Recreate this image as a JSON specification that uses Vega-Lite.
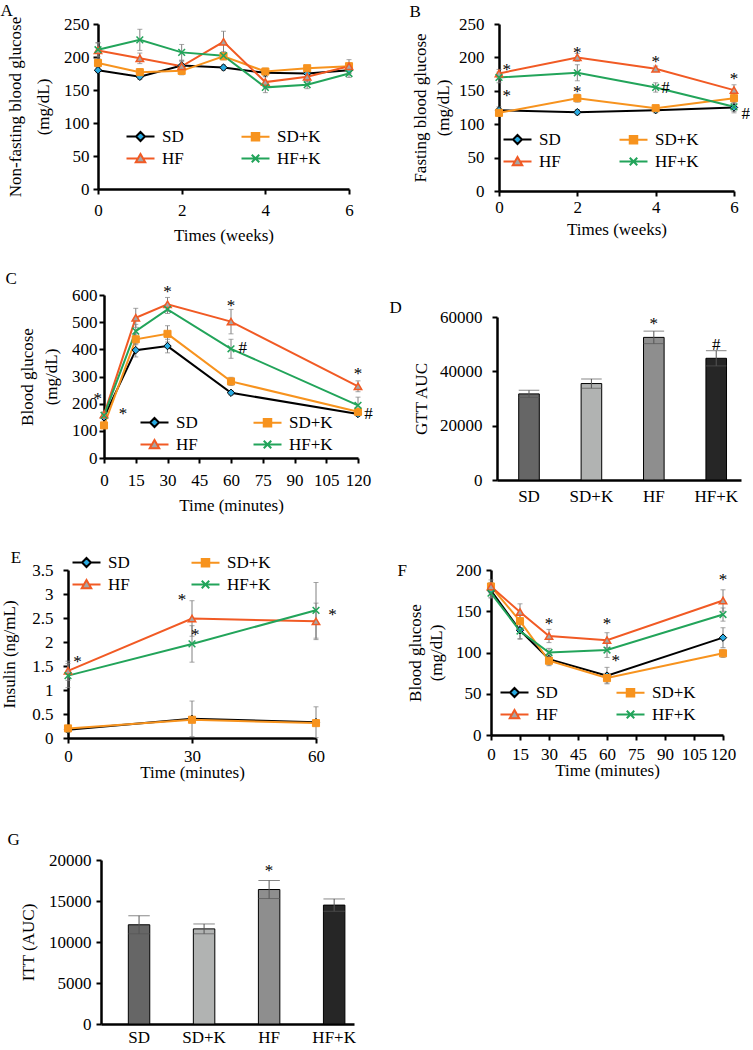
{
  "$schema": "https://vega.github.io/schema/vega-lite/v6.json",
  "padding": {"top": 2, "left": 0, "right": 0, "bottom": 0},
  "background": "white",
  "config": {
    "view": {"stroke": null},
    "font": "Liberation Serif",
    "axis": {"domainColor": "#000", "domainWidth": 2.5, "tickColor": "#000", "tickWidth": 2, "tickSize": 5, "labelFont": "Liberation Serif", "labelFontSize": 17, "labelColor": "#000", "titleFont": "Liberation Serif", "titleFontSize": 17, "titleFontWeight": "normal", "titleColor": "#000", "grid": false, "labelPadding": 3, "labelFlush": false, "labelOverlap": false, "titleLineHeight": 24},
    "axisX": {"titleBaseline": "middle"},
    "axisY": {"titlePadding": 6},
    "legend": {"labelFont": "Liberation Serif", "labelFontSize": 17, "labelColor": "#000", "symbolStrokeWidth": 2, "padding": 0, "symbolOpacity": 1, "direction": "horizontal", "rowPadding": 4},
    "title": {"anchor": "start", "frame": "bounds", "fontSize": 17, "fontWeight": "normal", "font": "Liberation Serif", "color": "#000", "offset": 4}
  },
  "datasets": {
    "A": [
      {"g": "SD", "t": 0, "v": 180, "e": 4}, {"g": "SD", "t": 1, "v": 170, "e": 4}, {"g": "SD", "t": 2, "v": 187, "e": 8}, {"g": "SD", "t": 3, "v": 184, "e": 4}, {"g": "SD", "t": 4, "v": 176, "e": 5}, {"g": "SD", "t": 5, "v": 175, "e": 4}, {"g": "SD", "t": 6, "v": 180, "e": 5},
      {"g": "SD+K", "t": 0, "v": 191, "e": 5}, {"g": "SD+K", "t": 1, "v": 177, "e": 5}, {"g": "SD+K", "t": 2, "v": 179, "e": 6}, {"g": "SD+K", "t": 3, "v": 201, "e": 5}, {"g": "SD+K", "t": 4, "v": 178, "e": 5}, {"g": "SD+K", "t": 5, "v": 183, "e": 4}, {"g": "SD+K", "t": 6, "v": 186, "e": 5},
      {"g": "HF", "t": 0, "v": 210, "e": 12}, {"g": "HF", "t": 1, "v": 198, "e": 8}, {"g": "HF", "t": 2, "v": 186, "e": 7}, {"g": "HF", "t": 3, "v": 223, "e": 16}, {"g": "HF", "t": 4, "v": 162, "e": 8}, {"g": "HF", "t": 5, "v": 170, "e": 7}, {"g": "HF", "t": 6, "v": 186, "e": 10},
      {"g": "HF+K", "t": 0, "v": 211, "e": 10}, {"g": "HF+K", "t": 1, "v": 226, "e": 16}, {"g": "HF+K", "t": 2, "v": 207, "e": 12}, {"g": "HF+K", "t": 3, "v": 202, "e": 6}, {"g": "HF+K", "t": 4, "v": 154, "e": 8}, {"g": "HF+K", "t": 5, "v": 158, "e": 6}, {"g": "HF+K", "t": 6, "v": 175, "e": 6}
    ],
    "B": [
      {"g": "SD", "t": 0, "v": 121, "e": 5}, {"g": "SD", "t": 2, "v": 118, "e": 4}, {"g": "SD", "t": 4, "v": 121, "e": 4}, {"g": "SD", "t": 6, "v": 125, "e": 8},
      {"g": "SD+K", "t": 0, "v": 117, "e": 5}, {"g": "SD+K", "t": 2, "v": 139, "e": 6}, {"g": "SD+K", "t": 4, "v": 124, "e": 4}, {"g": "SD+K", "t": 6, "v": 139, "e": 8},
      {"g": "HF", "t": 0, "v": 176, "e": 6}, {"g": "HF", "t": 2, "v": 200, "e": 6}, {"g": "HF", "t": 4, "v": 183, "e": 4}, {"g": "HF", "t": 6, "v": 151, "e": 8},
      {"g": "HF+K", "t": 0, "v": 170, "e": 8}, {"g": "HF+K", "t": 2, "v": 177, "e": 12}, {"g": "HF+K", "t": 4, "v": 155, "e": 7}, {"g": "HF+K", "t": 6, "v": 126, "e": 7}
    ],
    "Bnote": [
      {"t": 0.2, "v": 187, "label": "*"}, {"t": 0.2, "v": 148, "label": "*"}, {"t": 2, "v": 213, "label": "*"}, {"t": 2, "v": 154, "label": "*"}, {"t": 4, "v": 199, "label": "*"}, {"t": 4.25, "v": 160, "label": "#"}, {"t": 6, "v": 174, "label": "*"}, {"t": 6.3, "v": 121, "label": "#"}
    ],
    "C": [
      {"g": "SD", "t": 0, "v": 150, "e": 10}, {"g": "SD", "t": 15, "v": 397, "e": 25}, {"g": "SD", "t": 30, "v": 412, "e": 25}, {"g": "SD", "t": 60, "v": 240, "e": 8}, {"g": "SD", "t": 120, "v": 162, "e": 8},
      {"g": "SD+K", "t": 0, "v": 120, "e": 8}, {"g": "SD+K", "t": 15, "v": 437, "e": 20}, {"g": "SD+K", "t": 30, "v": 457, "e": 30}, {"g": "SD+K", "t": 60, "v": 282, "e": 15}, {"g": "SD+K", "t": 120, "v": 170, "e": 8},
      {"g": "HF", "t": 0, "v": 160, "e": 10}, {"g": "HF", "t": 15, "v": 516, "e": 35}, {"g": "HF", "t": 30, "v": 566, "e": 25}, {"g": "HF", "t": 60, "v": 502, "e": 45}, {"g": "HF", "t": 120, "v": 264, "e": 20},
      {"g": "HF+K", "t": 0, "v": 157, "e": 10}, {"g": "HF+K", "t": 15, "v": 467, "e": 25}, {"g": "HF+K", "t": 30, "v": 547, "e": 15}, {"g": "HF+K", "t": 60, "v": 402, "e": 35}, {"g": "HF+K", "t": 120, "v": 194, "e": 30}
    ],
    "Cnote": [
      {"t": -3, "v": 231, "label": "*"}, {"t": 9, "v": 175, "label": "*"}, {"t": 30, "v": 627, "label": "*"}, {"t": 60, "v": 574, "label": "*"}, {"t": 65.5, "v": 420, "label": "#"}, {"t": 120, "v": 323, "label": "*"}, {"t": 125, "v": 175, "label": "#"}
    ],
    "D": [
      {"g": "SD", "v": 31700, "e": 1300}, {"g": "SD+K", "v": 35500, "e": 1700}, {"g": "HF", "v": 52500, "e": 2300}, {"g": "HF+K", "v": 44800, "e": 2800}
    ],
    "Dnote": [
      {"g": "HF", "v": 59000, "label": "*"}, {"g": "HF+K", "v": 51000, "label": "#"}
    ],
    "E": [
      {"g": "SD", "t": 0, "v": 0.17, "e": 0.05}, {"g": "SD", "t": 30, "v": 0.40, "e": 0.37}, {"g": "SD", "t": 60, "v": 0.33, "e": 0.32},
      {"g": "SD+K", "t": 0, "v": 0.20, "e": 0.05}, {"g": "SD+K", "t": 30, "v": 0.38, "e": 0.05}, {"g": "SD+K", "t": 60, "v": 0.31, "e": 0.05},
      {"g": "HF", "t": 0, "v": 1.40, "e": 0.2}, {"g": "HF", "t": 30, "v": 2.49, "e": 0.37}, {"g": "HF", "t": 60, "v": 2.43, "e": 0.38},
      {"g": "HF+K", "t": 0, "v": 1.30, "e": 0.25}, {"g": "HF+K", "t": 30, "v": 1.96, "e": 0.38}, {"g": "HF+K", "t": 60, "v": 2.66, "e": 0.58}
    ],
    "Enote": [
      {"t": 2.3, "v": 1.66, "label": "*"}, {"t": 27.6, "v": 2.96, "label": "*"}, {"t": 30.8, "v": 2.22, "label": "*"}, {"t": 64, "v": 2.64, "label": "*"}
    ],
    "F": [
      {"g": "SD", "t": 0, "v": 175, "e": 8}, {"g": "SD", "t": 15, "v": 127, "e": 10}, {"g": "SD", "t": 30, "v": 92, "e": 7}, {"g": "SD", "t": 60, "v": 72, "e": 10}, {"g": "SD", "t": 120, "v": 118, "e": 12},
      {"g": "SD+K", "t": 0, "v": 180, "e": 5}, {"g": "SD+K", "t": 15, "v": 138, "e": 8}, {"g": "SD+K", "t": 30, "v": 90, "e": 6}, {"g": "SD+K", "t": 60, "v": 69, "e": 6}, {"g": "SD+K", "t": 120, "v": 99, "e": 5},
      {"g": "HF", "t": 0, "v": 180, "e": 8}, {"g": "HF", "t": 15, "v": 149, "e": 10}, {"g": "HF", "t": 30, "v": 120, "e": 8}, {"g": "HF", "t": 60, "v": 115, "e": 9}, {"g": "HF", "t": 120, "v": 163, "e": 13},
      {"g": "HF+K", "t": 0, "v": 172, "e": 6}, {"g": "HF+K", "t": 15, "v": 126, "e": 10}, {"g": "HF+K", "t": 30, "v": 100, "e": 5}, {"g": "HF+K", "t": 60, "v": 103, "e": 9}, {"g": "HF+K", "t": 120, "v": 146, "e": 8}
    ],
    "Fnote": [
      {"t": 30, "v": 139, "label": "*"}, {"t": 60, "v": 139, "label": "*"}, {"t": 64.5, "v": 94, "label": "*"}, {"t": 120, "v": 193, "label": "*"}
    ],
    "G": [
      {"g": "SD", "v": 12100, "e": 1100}, {"g": "SD+K", "v": 11600, "e": 600}, {"g": "HF", "v": 16400, "e": 1100}, {"g": "HF+K", "v": 14500, "e": 750}
    ],
    "Gnote": [
      {"g": "HF", "v": 19100, "label": "*"}
    ]
  },
  "columns": 1,
  "align": "none",
  "spacing": 36,
  "resolve": {"scale": {"stroke": "independent", "fill": "independent", "shape": "independent", "x": "independent", "y": "independent"}, "legend": {"stroke": "independent", "fill": "independent", "shape": "independent"}},
  "concat": [
    {
      "columns": 1,
      "align": "none",
      "spacing": 26,
      "resolve": {"scale": {"stroke": "independent", "fill": "independent", "shape": "independent", "x": "independent", "y": "independent"}, "legend": {"stroke": "independent", "fill": "independent", "shape": "independent"}},
      "concat": [
        {
          "spacing": 46,
          "resolve": {"scale": {"stroke": "independent", "fill": "independent", "shape": "independent"}, "legend": {"stroke": "independent", "fill": "independent", "shape": "independent"}},
          "hconcat": [
            {
              "width": 281, "height": 165,
              "title": {"text": "A", "offset": -5, "dx": -6},
              "data": {"name": "A"},
              "encoding": {
                "x": {"field": "t", "type": "quantitative", "scale": {"domain": [0, 6], "nice": false, "range": [30, 281]}, "axis": {"values": [0, 2, 4, 6], "title": "Times (weeks)", "labelPadding": 8, "titleY": 46}},
                "y": {"field": "v", "type": "quantitative", "scale": {"domain": [0, 250], "nice": false}, "axis": {"offset": -30, "values": [0, 50, 100, 150, 200, 250], "title": ["Non-fasting blood glucose", "(mg/dL)"], "labelPadding": 4, "titlePadding": 11, "titleLineHeight": 28}}
              },
              "layer": [
                {"transform": [{"filter": "datum.g == 'SD'"}], "mark": {"type": "line", "strokeWidth": 2, "color": "#000000"}},
                {"transform": [{"filter": "datum.g == 'SD+K'"}], "mark": {"type": "line", "strokeWidth": 2, "color": "#f7931e"}},
                {"transform": [{"filter": "datum.g == 'HF'"}], "mark": {"type": "line", "strokeWidth": 2, "color": "#f15a24"}},
                {"transform": [{"filter": "datum.g == 'HF+K'"}], "mark": {"type": "line", "strokeWidth": 2, "color": "#22a45a"}},
                {"mark": {"type": "errorbar", "ticks": true, "color": "#808080", "thickness": 1}, "encoding": {"yError": {"field": "e"}}},
                {"transform": [{"filter": "datum.g == 'SD'"}], "mark": {"type": "point", "filled": true, "shape": "diamond", "size": 55, "fill": "#29abe2", "stroke": "#000", "strokeWidth": 1, "opacity": 1}},
                {"transform": [{"filter": "datum.g == 'SD+K'"}], "mark": {"type": "point", "filled": true, "shape": "square", "size": 50, "fill": "#f7931e", "stroke": "#f7931e", "strokeWidth": 1, "opacity": 1}},
                {"transform": [{"filter": "datum.g == 'HF'"}], "mark": {"type": "point", "filled": true, "shape": "triangle-up", "size": 55, "fill": "#a6a6a6", "stroke": "#f15a24", "strokeWidth": 1.5, "opacity": 1}},
                {"transform": [{"filter": "datum.g == 'HF+K'"}], "mark": {"type": "point", "filled": false, "shape": "M-1,-1L1,1M-1,1L1,-1", "size": 45, "stroke": "#22a45a", "strokeWidth": 1.5, "opacity": 1}},
                {"mark": {"type": "point", "filled": true, "size": 100, "strokeWidth": 2, "opacity": 0},
                 "encoding": {
                   "stroke": {"field": "g", "type": "nominal", "scale": {"domain": ["SD", "SD+K", "HF", "HF+K"], "range": ["#000000", "#f7931e", "#f15a24", "#22a45a"]}, "legend": {"title": null, "orient": "none", "legendX": 64, "legendY": 104, "columns": 2, "columnPadding": 53, "symbolSize": 100, "labelOffset": 13}},
                   "fill": {"field": "g", "type": "nominal", "scale": {"domain": ["SD", "SD+K", "HF", "HF+K"], "range": ["#29abe2", "#f7931e", "#a6a6a6", "#22a45a"]}, "legend": {"title": null, "orient": "none", "legendX": 64, "legendY": 104, "columns": 2, "columnPadding": 53, "symbolSize": 100, "labelOffset": 13}},
                   "shape": {"field": "g", "type": "nominal", "scale": {"domain": ["SD", "SD+K", "HF", "HF+K"], "range": ["M-2.8,0H-0.9M0.9,0H2.8M0,-0.9L0.9,0L0,0.9L-0.9,0Z", "M-2.8,0H-0.75M0.75,0H2.8M-0.75,-0.75H0.75V0.75H-0.75Z", "M-2.8,0H-0.5M0.5,0H2.8M0,-0.9L0.95,0.75H-0.95Z", "M-2.8,0H2.8M-0.75,-0.75L0.75,0.75M-0.75,0.75L0.75,-0.75"]}, "legend": {"title": null, "orient": "none", "legendX": 64, "legendY": 104, "columns": 2, "columnPadding": 53, "symbolSize": 100, "labelOffset": 13}}
                 }}
              ]
            },
            {
              "width": 235, "height": 167,
              "title": {"text": "B", "offset": -6, "dx": -2},
              "data": {"name": "B"},
              "encoding": {
                "x": {"field": "t", "type": "quantitative", "scale": {"domain": [0, 6], "nice": false}, "axis": {"values": [0, 2, 4, 6], "title": "Times (weeks)", "labelPadding": 3, "titleY": 38}},
                "y": {"field": "v", "type": "quantitative", "scale": {"domain": [0, 250], "nice": false}, "axis": {"values": [0, 50, 100, 150, 200, 250], "title": ["Fasting blood glucose", "(mg/dL)"], "labelPadding": 10, "titlePadding": 6, "titleLineHeight": 23}}
              },
              "layer": [
                {"transform": [{"filter": "datum.g == 'SD'"}], "mark": {"type": "line", "strokeWidth": 2, "color": "#000000"}},
                {"transform": [{"filter": "datum.g == 'SD+K'"}], "mark": {"type": "line", "strokeWidth": 2, "color": "#f7931e"}},
                {"transform": [{"filter": "datum.g == 'HF'"}], "mark": {"type": "line", "strokeWidth": 2, "color": "#f15a24"}},
                {"transform": [{"filter": "datum.g == 'HF+K'"}], "mark": {"type": "line", "strokeWidth": 2, "color": "#22a45a"}},
                {"mark": {"type": "errorbar", "ticks": true, "color": "#808080", "thickness": 1}, "encoding": {"yError": {"field": "e"}}},
                {"transform": [{"filter": "datum.g == 'SD'"}], "mark": {"type": "point", "filled": true, "shape": "diamond", "size": 55, "fill": "#29abe2", "stroke": "#000", "strokeWidth": 1, "opacity": 1}},
                {"transform": [{"filter": "datum.g == 'SD+K'"}], "mark": {"type": "point", "filled": true, "shape": "square", "size": 50, "fill": "#f7931e", "stroke": "#f7931e", "strokeWidth": 1, "opacity": 1}},
                {"transform": [{"filter": "datum.g == 'HF'"}], "mark": {"type": "point", "filled": true, "shape": "triangle-up", "size": 55, "fill": "#a6a6a6", "stroke": "#f15a24", "strokeWidth": 1.5, "opacity": 1}},
                {"transform": [{"filter": "datum.g == 'HF+K'"}], "mark": {"type": "point", "filled": false, "shape": "M-1,-1L1,1M-1,1L1,-1", "size": 45, "stroke": "#22a45a", "strokeWidth": 1.5, "opacity": 1}},
                {"data": {"name": "Bnote"}, "mark": {"type": "text", "fontSize": 17, "font": "Liberation Serif", "fill": "#000", "dy": 4}, "encoding": {"text": {"field": "label"}}},
                {"mark": {"type": "point", "filled": true, "size": 100, "strokeWidth": 2, "opacity": 0},
                 "encoding": {
                   "stroke": {"field": "g", "type": "nominal", "scale": {"domain": ["SD", "SD+K", "HF", "HF+K"], "range": ["#000000", "#f7931e", "#f15a24", "#22a45a"]}, "legend": {"title": null, "orient": "none", "legendX": 10, "legendY": 107, "columns": 2, "columnPadding": 54, "symbolSize": 100, "labelOffset": 13}},
                   "fill": {"field": "g", "type": "nominal", "scale": {"domain": ["SD", "SD+K", "HF", "HF+K"], "range": ["#29abe2", "#f7931e", "#a6a6a6", "#22a45a"]}, "legend": {"title": null, "orient": "none", "legendX": 10, "legendY": 107, "columns": 2, "columnPadding": 54, "symbolSize": 100, "labelOffset": 13}},
                   "shape": {"field": "g", "type": "nominal", "scale": {"domain": ["SD", "SD+K", "HF", "HF+K"], "range": ["M-2.8,0H-0.9M0.9,0H2.8M0,-0.9L0.9,0L0,0.9L-0.9,0Z", "M-2.8,0H-0.75M0.75,0H2.8M-0.75,-0.75H0.75V0.75H-0.75Z", "M-2.8,0H-0.5M0.5,0H2.8M0,-0.9L0.95,0.75H-0.95Z", "M-2.8,0H2.8M-0.75,-0.75L0.75,0.75M-0.75,0.75L0.75,-0.75"]}, "legend": {"title": null, "orient": "none", "legendX": 10, "legendY": 107, "columns": 2, "columnPadding": 54, "symbolSize": 100, "labelOffset": 13}}
                 }}
              ]
            }
          ]
        },
        {
          "spacing": 16,
          "resolve": {"scale": {"stroke": "independent", "fill": "independent", "shape": "independent"}, "legend": {"stroke": "independent", "fill": "independent", "shape": "independent"}},
          "hconcat": [
            {
              "width": 290, "height": 163,
              "title": {"text": "C", "offset": -5, "dx": -13},
              "data": {"name": "C"},
              "encoding": {
                "x": {"field": "t", "type": "quantitative", "scale": {"domain": [0, 120], "nice": false, "range": [36, 290]}, "axis": {"values": [0, 15, 30, 45, 60, 75, 90, 105, 120], "title": "Time (minutes)", "labelPadding": 9, "titleY": 47}},
                "y": {"field": "v", "type": "quantitative", "scale": {"domain": [0, 600], "nice": false}, "axis": {"offset": -36, "values": [0, 100, 200, 300, 400, 500, 600], "title": ["Blood glucose", "(mg/dL)"], "labelPadding": 2, "titlePadding": 11, "titleLineHeight": 24}}
              },
              "layer": [
                {"transform": [{"filter": "datum.g == 'SD'"}], "mark": {"type": "line", "strokeWidth": 2, "color": "#000000"}},
                {"transform": [{"filter": "datum.g == 'SD+K'"}], "mark": {"type": "line", "strokeWidth": 2, "color": "#f7931e"}},
                {"transform": [{"filter": "datum.g == 'HF'"}], "mark": {"type": "line", "strokeWidth": 2, "color": "#f15a24"}},
                {"transform": [{"filter": "datum.g == 'HF+K'"}], "mark": {"type": "line", "strokeWidth": 2, "color": "#22a45a"}},
                {"mark": {"type": "errorbar", "ticks": true, "color": "#808080", "thickness": 1}, "encoding": {"yError": {"field": "e"}}},
                {"transform": [{"filter": "datum.g == 'SD'"}], "mark": {"type": "point", "filled": true, "shape": "diamond", "size": 55, "fill": "#29abe2", "stroke": "#000", "strokeWidth": 1, "opacity": 1}},
                {"transform": [{"filter": "datum.g == 'SD+K'"}], "mark": {"type": "point", "filled": true, "shape": "square", "size": 50, "fill": "#f7931e", "stroke": "#f7931e", "strokeWidth": 1, "opacity": 1}},
                {"transform": [{"filter": "datum.g == 'HF'"}], "mark": {"type": "point", "filled": true, "shape": "triangle-up", "size": 55, "fill": "#a6a6a6", "stroke": "#f15a24", "strokeWidth": 1.5, "opacity": 1}},
                {"transform": [{"filter": "datum.g == 'HF+K'"}], "mark": {"type": "point", "filled": false, "shape": "M-1,-1L1,1M-1,1L1,-1", "size": 45, "stroke": "#22a45a", "strokeWidth": 1.5, "opacity": 1}},
                {"data": {"name": "Cnote"}, "mark": {"type": "text", "fontSize": 17, "font": "Liberation Serif", "fill": "#000", "dy": 4}, "encoding": {"text": {"field": "label"}}},
                {"mark": {"type": "point", "filled": true, "size": 100, "strokeWidth": 2, "opacity": 0},
                 "encoding": {
                   "stroke": {"field": "g", "type": "nominal", "scale": {"domain": ["SD", "SD+K", "HF", "HF+K"], "range": ["#000000", "#f7931e", "#f15a24", "#22a45a"]}, "legend": {"title": null, "orient": "none", "legendX": 78, "legendY": 119, "columns": 2, "columnPadding": 51, "symbolSize": 100, "labelOffset": 13}},
                   "fill": {"field": "g", "type": "nominal", "scale": {"domain": ["SD", "SD+K", "HF", "HF+K"], "range": ["#29abe2", "#f7931e", "#a6a6a6", "#22a45a"]}, "legend": {"title": null, "orient": "none", "legendX": 78, "legendY": 119, "columns": 2, "columnPadding": 51, "symbolSize": 100, "labelOffset": 13}},
                   "shape": {"field": "g", "type": "nominal", "scale": {"domain": ["SD", "SD+K", "HF", "HF+K"], "range": ["M-2.8,0H-0.9M0.9,0H2.8M0,-0.9L0.9,0L0,0.9L-0.9,0Z", "M-2.8,0H-0.75M0.75,0H2.8M-0.75,-0.75H0.75V0.75H-0.75Z", "M-2.8,0H-0.5M0.5,0H2.8M0,-0.9L0.95,0.75H-0.95Z", "M-2.8,0H2.8M-0.75,-0.75L0.75,0.75M-0.75,0.75L0.75,-0.75"]}, "legend": {"title": null, "orient": "none", "legendX": 78, "legendY": 119, "columns": 2, "columnPadding": 51, "symbolSize": 100, "labelOffset": 13}}
                 }}
              ]
            },
            {
              "width": 244, "height": 185,
              "title": {"text": "D", "offset": -22, "dx": -23},
              "data": {"name": "D"},
              "encoding": {
                "x": {"field": "g", "type": "nominal", "sort": ["SD", "SD+K", "HF", "HF+K"], "scale": {"domain": ["SD", "SD+K", "HF", "HF+K"], "paddingInner": 0.67, "paddingOuter": 0.29, "align": 0.6}, "axis": {"title": null, "ticks": false, "labelAngle": 0, "labelPadding": 8}},
                "y": {"field": "v", "type": "quantitative", "scale": {"domain": [0, 60000], "nice": false, "range": [185, 22]}, "axis": {"values": [0, 20000, 40000, 60000], "format": "d", "title": "GTT AUC", "labelPadding": 10, "titlePadding": 9}}
              },
              "layer": [
                {"mark": {"type": "bar", "stroke": "#000", "strokeWidth": 1}, "encoding": {"fill": {"field": "g", "type": "nominal", "scale": {"domain": ["SD", "SD+K", "HF", "HF+K"], "range": ["#666666", "#b1b3b2", "#8e8e8e", "#262626"]}, "legend": null}}},
                {"mark": {"type": "errorbar", "ticks": true, "color": "#555555", "thickness": 1}, "encoding": {"yError": {"field": "e"}}},
                {"data": {"name": "Dnote"}, "mark": {"type": "text", "fontSize": 17, "font": "Liberation Serif", "fill": "#000", "dy": 4}, "encoding": {"text": {"field": "label"}}}
              ]
            }
          ]
        }
      ]
    },
    {
      "columns": 1,
      "align": "none",
      "spacing": 51,
      "resolve": {"scale": {"stroke": "independent", "fill": "independent", "shape": "independent", "x": "independent", "y": "independent"}, "legend": {"stroke": "independent", "fill": "independent", "shape": "independent"}},
      "concat": [
        {
          "spacing": 60,
          "resolve": {"scale": {"stroke": "independent", "fill": "independent", "shape": "independent"}, "legend": {"stroke": "independent", "fill": "independent", "shape": "independent"}},
          "hconcat": [
            {
              "width": 248, "height": 168,
              "title": {"text": "E", "offset": -13, "dx": 10},
              "data": {"name": "E"},
              "encoding": {
                "x": {"field": "t", "type": "quantitative", "scale": {"domain": [0, 60], "nice": false}, "axis": {"values": [0, 30, 60], "title": "Time (minutes)", "labelPadding": 5, "titleY": 34}},
                "y": {"field": "v", "type": "quantitative", "scale": {"domain": [0, 3.5], "nice": false}, "axis": {"values": [0, 0.5, 1, 1.5, 2, 2.5, 3, 3.5], "format": "~g", "title": "Insulin (ng/mL)", "labelPadding": 10, "titlePadding": 13}}
              },
              "layer": [
                {"transform": [{"filter": "datum.g == 'SD'"}], "mark": {"type": "line", "strokeWidth": 2, "color": "#000000"}},
                {"transform": [{"filter": "datum.g == 'SD+K'"}], "mark": {"type": "line", "strokeWidth": 2, "color": "#f7931e"}},
                {"transform": [{"filter": "datum.g == 'HF'"}], "mark": {"type": "line", "strokeWidth": 2, "color": "#f15a24"}},
                {"transform": [{"filter": "datum.g == 'HF+K'"}], "mark": {"type": "line", "strokeWidth": 2, "color": "#22a45a"}},
                {"mark": {"type": "errorbar", "ticks": true, "color": "#808080", "thickness": 1}, "encoding": {"yError": {"field": "e"}}},
                {"transform": [{"filter": "datum.g == 'SD'"}], "mark": {"type": "point", "filled": true, "shape": "diamond", "size": 55, "fill": "#29abe2", "stroke": "#000", "strokeWidth": 1, "opacity": 1}},
                {"transform": [{"filter": "datum.g == 'SD+K'"}], "mark": {"type": "point", "filled": true, "shape": "square", "size": 50, "fill": "#f7931e", "stroke": "#f7931e", "strokeWidth": 1, "opacity": 1}},
                {"transform": [{"filter": "datum.g == 'HF'"}], "mark": {"type": "point", "filled": true, "shape": "triangle-up", "size": 55, "fill": "#a6a6a6", "stroke": "#f15a24", "strokeWidth": 1.5, "opacity": 1}},
                {"transform": [{"filter": "datum.g == 'HF+K'"}], "mark": {"type": "point", "filled": false, "shape": "M-1,-1L1,1M-1,1L1,-1", "size": 45, "stroke": "#22a45a", "strokeWidth": 1.5, "opacity": 1}},
                {"data": {"name": "Enote"}, "mark": {"type": "text", "fontSize": 17, "font": "Liberation Serif", "fill": "#000", "dy": 4}, "encoding": {"text": {"field": "label"}}},
                {"mark": {"type": "point", "filled": true, "size": 100, "strokeWidth": 2, "opacity": 0},
                 "encoding": {
                   "stroke": {"field": "g", "type": "nominal", "scale": {"domain": ["SD", "SD+K", "HF", "HF+K"], "range": ["#000000", "#f7931e", "#f15a24", "#22a45a"]}, "legend": {"title": null, "orient": "none", "legendX": 10, "legendY": -16, "columns": 2, "columnPadding": 57, "symbolSize": 100, "labelOffset": 13}},
                   "fill": {"field": "g", "type": "nominal", "scale": {"domain": ["SD", "SD+K", "HF", "HF+K"], "range": ["#29abe2", "#f7931e", "#a6a6a6", "#22a45a"]}, "legend": {"title": null, "orient": "none", "legendX": 10, "legendY": -16, "columns": 2, "columnPadding": 57, "symbolSize": 100, "labelOffset": 13}},
                   "shape": {"field": "g", "type": "nominal", "scale": {"domain": ["SD", "SD+K", "HF", "HF+K"], "range": ["M-2.8,0H-0.9M0.9,0H2.8M0,-0.9L0.9,0L0,0.9L-0.9,0Z", "M-2.8,0H-0.75M0.75,0H2.8M-0.75,-0.75H0.75V0.75H-0.75Z", "M-2.8,0H-0.5M0.5,0H2.8M0,-0.9L0.95,0.75H-0.95Z", "M-2.8,0H2.8M-0.75,-0.75L0.75,0.75M-0.75,0.75L0.75,-0.75"]}, "legend": {"title": null, "orient": "none", "legendX": 10, "legendY": -16, "columns": 2, "columnPadding": 57, "symbolSize": 100, "labelOffset": 13}}
                 }}
              ]
            },
            {
              "width": 232, "height": 165,
              "title": {"text": "F", "offset": -19, "dx": -9},
              "data": {"name": "F"},
              "encoding": {
                "x": {"field": "t", "type": "quantitative", "scale": {"domain": [0, 120], "nice": false}, "axis": {"values": [0, 15, 30, 45, 60, 75, 90, 105, 120], "title": "Time (minutes)", "labelPadding": 6, "titleY": 35}},
                "y": {"field": "v", "type": "quantitative", "scale": {"domain": [0, 200], "nice": false}, "axis": {"values": [0, 50, 100, 150, 200], "title": ["Blood glucose", "(mg/dL)"], "labelPadding": 5, "titlePadding": 10, "titleLineHeight": 21}}
              },
              "layer": [
                {"transform": [{"filter": "datum.g == 'SD'"}], "mark": {"type": "line", "strokeWidth": 2, "color": "#000000"}},
                {"transform": [{"filter": "datum.g == 'SD+K'"}], "mark": {"type": "line", "strokeWidth": 2, "color": "#f7931e"}},
                {"transform": [{"filter": "datum.g == 'HF'"}], "mark": {"type": "line", "strokeWidth": 2, "color": "#f15a24"}},
                {"transform": [{"filter": "datum.g == 'HF+K'"}], "mark": {"type": "line", "strokeWidth": 2, "color": "#22a45a"}},
                {"mark": {"type": "errorbar", "ticks": true, "color": "#808080", "thickness": 1}, "encoding": {"yError": {"field": "e"}}},
                {"transform": [{"filter": "datum.g == 'SD'"}], "mark": {"type": "point", "filled": true, "shape": "diamond", "size": 55, "fill": "#29abe2", "stroke": "#000", "strokeWidth": 1, "opacity": 1}},
                {"transform": [{"filter": "datum.g == 'SD+K'"}], "mark": {"type": "point", "filled": true, "shape": "square", "size": 50, "fill": "#f7931e", "stroke": "#f7931e", "strokeWidth": 1, "opacity": 1}},
                {"transform": [{"filter": "datum.g == 'HF'"}], "mark": {"type": "point", "filled": true, "shape": "triangle-up", "size": 55, "fill": "#a6a6a6", "stroke": "#f15a24", "strokeWidth": 1.5, "opacity": 1}},
                {"transform": [{"filter": "datum.g == 'HF+K'"}], "mark": {"type": "point", "filled": false, "shape": "M-1,-1L1,1M-1,1L1,-1", "size": 45, "stroke": "#22a45a", "strokeWidth": 1.5, "opacity": 1}},
                {"data": {"name": "Fnote"}, "mark": {"type": "text", "fontSize": 17, "font": "Liberation Serif", "fill": "#000", "dy": 4}, "encoding": {"text": {"field": "label"}}},
                {"mark": {"type": "point", "filled": true, "size": 100, "strokeWidth": 2, "opacity": 0},
                 "encoding": {
                   "stroke": {"field": "g", "type": "nominal", "scale": {"domain": ["SD", "SD+K", "HF", "HF+K"], "range": ["#000000", "#f7931e", "#f15a24", "#22a45a"]}, "legend": {"title": null, "orient": "none", "legendX": 15, "legendY": 114, "columns": 2, "columnPadding": 54, "symbolSize": 100, "labelOffset": 13}},
                   "fill": {"field": "g", "type": "nominal", "scale": {"domain": ["SD", "SD+K", "HF", "HF+K"], "range": ["#29abe2", "#f7931e", "#a6a6a6", "#22a45a"]}, "legend": {"title": null, "orient": "none", "legendX": 15, "legendY": 114, "columns": 2, "columnPadding": 54, "symbolSize": 100, "labelOffset": 13}},
                   "shape": {"field": "g", "type": "nominal", "scale": {"domain": ["SD", "SD+K", "HF", "HF+K"], "range": ["M-2.8,0H-0.9M0.9,0H2.8M0,-0.9L0.9,0L0,0.9L-0.9,0Z", "M-2.8,0H-0.75M0.75,0H2.8M-0.75,-0.75H0.75V0.75H-0.75Z", "M-2.8,0H-0.5M0.5,0H2.8M0,-0.9L0.95,0.75H-0.95Z", "M-2.8,0H2.8M-0.75,-0.75L0.75,0.75M-0.75,0.75L0.75,-0.75"]}, "legend": {"title": null, "orient": "none", "legendX": 15, "legendY": 114, "columns": 2, "columnPadding": 54, "symbolSize": 100, "labelOffset": 13}}
                 }}
              ]
            }
          ]
        },
        {
          "width": 286, "height": 164,
          "title": {"text": "G", "offset": 2, "dx": -12},
          "data": {"name": "G"},
          "encoding": {
            "x": {"field": "g", "type": "nominal", "sort": ["SD", "SD+K", "HF", "HF+K"], "scale": {"domain": ["SD", "SD+K", "HF", "HF+K"], "paddingInner": 0.67, "paddingOuter": 0.28, "align": 0.75, "range": [33, 286]}, "axis": {"title": null, "ticks": false, "labelAngle": 0, "labelPadding": 5}},
            "y": {"field": "v", "type": "quantitative", "scale": {"domain": [0, 20000], "nice": false}, "axis": {"offset": -33, "values": [0, 5000, 10000, 15000, 20000], "format": "d", "title": "ITT (AUC)", "labelPadding": 5, "titlePadding": 11}}
          },
          "layer": [
            {"mark": {"type": "bar", "stroke": "#000", "strokeWidth": 1}, "encoding": {"fill": {"field": "g", "type": "nominal", "scale": {"domain": ["SD", "SD+K", "HF", "HF+K"], "range": ["#666666", "#b1b3b2", "#8e8e8e", "#262626"]}, "legend": null}}},
            {"mark": {"type": "errorbar", "ticks": true, "color": "#555555", "thickness": 1}, "encoding": {"yError": {"field": "e"}}},
            {"data": {"name": "Gnote"}, "mark": {"type": "text", "fontSize": 17, "font": "Liberation Serif", "fill": "#000", "dy": 4}, "encoding": {"text": {"field": "label"}}}
          ]
        }
      ]
    }
  ]
}
